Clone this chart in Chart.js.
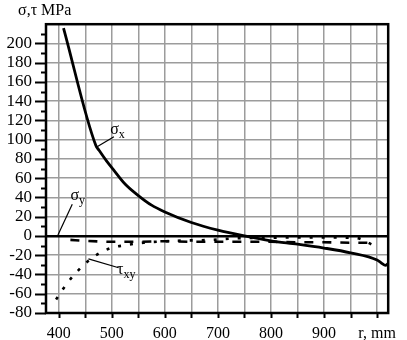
<!DOCTYPE html>
<html>
<head>
<meta charset="utf-8">
<script src="https://cdn.jsdelivr.net/npm/chart.js@4/dist/chart.umd.min.js"></script>
<style>
  html, body { margin: 0; padding: 0; background: #fff; }
  canvas { display: block; }
</style>
</head>
<body>
<canvas id="c" width="407" height="340"></canvas>
<script>
// Stress distribution along the radius r (mm), stresses in MPa
const radiusSigmaX = [409, 470, 476, 490, 503, 525, 550, 575, 600, 650, 700, 750, 800, 850, 900, 950, 1000, 1008, 1016, 1020];
const sigmaX       = [216, 94, 89, 78, 69, 54, 42, 32, 25, 14, 6, 0, -5, -8.5, -12.5, -17.5, -25, -28, -30.5, -29];

const radiusSigmaY = [422, 450, 500, 550, 600, 650, 700, 750, 800, 850, 900, 950, 990];
const sigmaY       = [-4, -5, -6, -6, -5.5, -6, -6, -6, -6, -6.5, -6.5, -7, -7];

const radiusTauXY  = [395, 407, 419.5, 433, 448, 465, 483, 502, 523, 560, 620, 690, 730, 800, 900, 960, 996];
const tauXY        = [-66, -56, -46.5, -38, -29.5, -22, -16, -11.8, -9.8, -7, -5, -4, -2.5, -1.8, -1.5, -2, -10.5];

// Axis ticks and labels
const xTickValues = [400, 450, 500, 550, 600, 650, 700, 750, 800, 850, 900, 950, 1000];
const xLabelValues = [400, 500, 600, 700, 800, 900, 1000];
const xLabelTexts  = ['400', '500', '600', '700', '800', '900', 'r, mm'];
const yTickValues = [-80, -60, -40, -20, 0, 20, 40, 60, 80, 100, 120, 140, 160, 180, 200, 220];
const yLabelMax = 200;

const SERIF = '"Liberation Serif", "Times New Roman", serif';
const GRID = '#9c9c9c';

// Curve labels with leader lines, placed in data coordinates
const curveLabels = [
  { main: 'σ', sub: 'x',  at: [497, 106], from: [504, 103], to: [470, 92] },
  { main: 'σ', sub: 'y',  at: [422, 37],  from: [425.5, 33], to: [398.5, 1] },
  { main: 'τ', sub: 'xy', at: [510, -39], from: [513, -33], to: [456, -23.7] }
];

const toPoints = (xs, ys) => xs.map((x, i) => ({ x, y: ys[i] }));

const frameAndMarks = {
  id: 'frameAndMarks',
  afterDraw(chart) {
    const { ctx, chartArea: a, scales: { x, y } } = chart;
    ctx.save();
    ctx.strokeStyle = '#000';
    ctx.lineCap = 'butt';

    // y tick marks: long at labelled values, short in between
    ctx.lineWidth = 2;
    for (let v = -80; v <= 210; v += 10) {
      const py = Math.round(y.getPixelForValue(v)) + 0.5;
      const len = (v % 20 === 0) ? 11 : 5;
      ctx.beginPath(); ctx.moveTo(a.left - len, py); ctx.lineTo(a.left, py); ctx.stroke();
    }
    // x tick marks
    xTickValues.forEach(v => {
      const px = Math.round(x.getPixelForValue(v)) + 0.5;
      ctx.beginPath(); ctx.moveTo(px, a.bottom); ctx.lineTo(px, a.bottom + 5); ctx.stroke();
    });

    // frame
    ctx.lineWidth = 2.5;
    ctx.strokeRect(a.left, a.top, a.right - a.left, a.bottom - a.top);

    // axis title
    ctx.fillStyle = '#000';
    ctx.font = '16px ' + SERIF;
    ctx.textBaseline = 'alphabetic';
    ctx.textAlign = 'left';
    ctx.fillText('σ,τ MPa', 18, 15);

    // curve labels
    curveLabels.forEach(l => {
      ctx.lineWidth = 1.2;
      ctx.beginPath();
      ctx.moveTo(x.getPixelForValue(l.from[0]), y.getPixelForValue(l.from[1]));
      ctx.lineTo(x.getPixelForValue(l.to[0]), y.getPixelForValue(l.to[1]));
      ctx.stroke();
      const px = x.getPixelForValue(l.at[0]);
      const py = y.getPixelForValue(l.at[1]);
      ctx.font = '16px ' + SERIF;
      ctx.fillText(l.main, px, py);
      const w = ctx.measureText(l.main).width;
      ctx.font = '12px ' + SERIF;
      ctx.fillText(l.sub, px + w, py + 4);
    });
    ctx.restore();
  }
};

new Chart(document.getElementById('c'), {
  type: 'line',
  data: {
    datasets: [
      { label: 'σx', data: toPoints(radiusSigmaX, sigmaX), borderColor: '#000', borderWidth: 2.8,
        pointRadius: 0, cubicInterpolationMode: 'monotone', fill: false },
      { label: 'σy', data: toPoints(radiusSigmaY, sigmaY), borderColor: '#000', borderWidth: 2.6,
        borderDash: [9, 9], pointRadius: 0, cubicInterpolationMode: 'monotone', fill: false },
      { label: 'τxy', data: toPoints(radiusTauXY, tauXY), borderColor: '#000', borderWidth: 2.6,
        borderDash: [3, 9], pointRadius: 0, cubicInterpolationMode: 'monotone', fill: false }
    ]
  },
  options: {
    responsive: false,
    animation: false,
    devicePixelRatio: 1,
    layout: { padding: { top: 18, right: 5, left: 0, bottom: 0 }, autoPadding: false },
    plugins: { legend: { display: false }, tooltip: { enabled: false }, title: { display: false } },
    scales: {
      x: {
        type: 'linear', min: 376, max: 1021,
        afterBuildTicks: s => { s.ticks = xTickValues.map(v => ({ value: v })); },
        afterFit: s => { s.height = 27; },
        ticks: {
          autoSkip: false, maxRotation: 0, padding: 11, color: '#000',
          font: { family: SERIF, size: 16 },
          callback: v => { const i = xLabelValues.indexOf(v); return i >= 0 ? xLabelTexts[i] : ''; }
        },
        grid: { color: GRID, lineWidth: 1.5, drawTicks: false },
        border: { display: false }
      },
      y: {
        min: -80, max: 220,
        afterBuildTicks: s => { s.ticks = yTickValues.map(v => ({ value: v })); },
        afterFit: s => { s.width = 46; },
        ticks: {
          autoSkip: false, padding: 14, color: '#000',
          font: { family: SERIF, size: 17 },
          callback: v => (v <= yLabelMax ? String(v) : '')
        },
        grid: {
          drawTicks: false,
          color: c => (c.tick && c.tick.value === 0 ? '#000' : GRID),
          lineWidth: c => (c.tick && c.tick.value === 0 ? 2.5 : 1.5)
        },
        border: { display: false }
      }
    }
  },
  plugins: [frameAndMarks]
});
</script>
</body>
</html>
